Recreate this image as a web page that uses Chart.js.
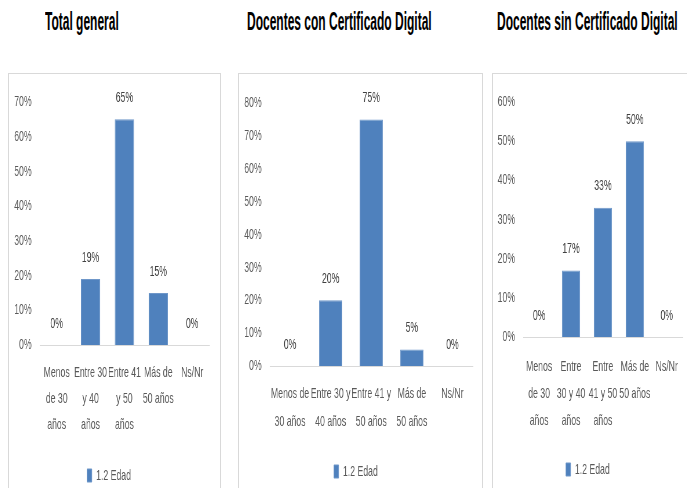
<!DOCTYPE html>
<html>
<head>
<meta charset="utf-8">
<script src="https://cdn.jsdelivr.net/npm/chart.js@4.4.1/dist/chart.umd.min.js"></script>
<style>
  body { margin: 0; width: 687px; height: 488px; overflow: hidden; background: #fff; }
  .title { position: absolute; top: 7px; font-family: 'Liberation Sans', Arial, sans-serif; font-size: 25px; font-weight: bold; color: #000; white-space: nowrap; transform: scaleX(0.48); transform-origin: 0 0; }
  .panel { position: absolute; top: 73px; height: 430px; border: 1px solid #d9d9d9; box-sizing: border-box; overflow: hidden; }
  .panel canvas { position: absolute; left: 0; top: 0; transform: scaleX(0.58); transform-origin: 0 0; }
</style>
</head>
<body>
<div class="title" style="left:45px">Total general</div>
<div class="title" style="left:247px">Docentes con Certificado Digital</div>
<div class="title" style="left:497px">Docentes sin Certificado Digital</div>

<!-- canvases are drawn wide and squeezed horizontally to get the narrow text -->
<div class="panel" style="left:8px;width:213px"><canvas id="c1" width="364" height="424"></canvas></div>
<div class="panel" style="left:238px;width:245px"><canvas id="c2" width="419" height="424"></canvas></div>
<div class="panel" style="left:492px;width:200px"><canvas id="c3" width="341" height="424"></canvas></div>

<script>
const FONT = "'Liberation Sans', Arial, sans-serif"
const seriesName = '1.2 Edad'

const labelsTotal = [['Menos', 'de 30', 'años'], ['Entre 30', 'y 40', 'años'], ['Entre 41', 'y 50', 'años'], ['Más de', '50 años'], 'Ns/Nr']
const labelsCon = [['Menos de', '30 años'], ['Entre 30 y', '40 años'], ['Entre 41 y', '50 años'], ['Más de', '50 años'], 'Ns/Nr']
const labelsSin = [['Menos', 'de 30', 'años'], ['Entre', '30 y 40', 'años'], ['Entre', '41 y 50', 'años'], ['Más de', '50 años'], 'Ns/Nr']

const valuesTotal = [0, 19, 65, 15, 0]
const valuesCon = [0, 20, 75, 5, 0]
const valuesSin = [0, 17, 33, 50, 0]

const maxTotal = 70
const maxCon = 80
const maxSin = 60

// value labels above each bar
const barLabels = {
  id: 'barLabels',
  afterDatasetsDraw(chart) {
    const ctx = chart.ctx
    const meta = chart.getDatasetMeta(0)
    const data = chart.data.datasets[0].data
    ctx.save()
    ctx.font = '15px ' + FONT
    ctx.fillStyle = '#404040'
    ctx.textAlign = 'center'
    ctx.textBaseline = 'bottom'
    meta.data.forEach((bar, i) => {
      ctx.fillText(data[i] + '%', bar.x, bar.y - 14)
    })
    ctx.restore()
  },
}

function createChart(canvas, labels, data, max, opts) {
  return new Chart(canvas, {
    type: 'bar',
    data: {
      labels,
      datasets: [
        {
          label: seriesName,
          data,
          backgroundColor: '#4f81bd',
          borderColor: '#6f97c9',
          borderWidth: 1,
          categoryPercentage: 1,
          barPercentage: 0.57,
        },
      ],
    },
    plugins: [barLabels],
    options: {
      responsive: false,
      animation: false,
      layout: { padding: { top: opts.top, right: opts.right, bottom: opts.bottom, left: 0 } },
      plugins: {
        legend: {
          position: 'bottom',
          labels: {
            boxWidth: 8,
            boxHeight: 13,
            padding: 6,
            color: '#595959',
            font: { family: FONT, size: 15 },
          },
        },
        tooltip: { enabled: false },
      },
      scales: {
        x: {
          grid: { display: true, drawOnChartArea: false, drawTicks: false },
          border: { display: true, color: '#d9d9d9', width: 1 },
          ticks: {
            maxRotation: 0,
            minRotation: 0,
            autoSkip: false,
            padding: opts.tickPad,
            color: '#595959',
            font: { family: FONT, size: 15, lineHeight: opts.lineHeight },
          },
          afterFit: (scale) => { scale.height = opts.xHeight },
        },
        y: {
          min: 0,
          max,
          grid: { display: false, drawTicks: false },
          border: { display: false },
          ticks: {
            stepSize: 10,
            padding: 14,
            color: '#595959',
            font: { family: FONT, size: 15 },
            callback: (v) => v + '%',
          },
          afterFit: (scale) => { scale.width = opts.yWidth },
        },
      },
    },
  })
}

createChart(document.getElementById('c1'), labelsTotal, valuesTotal, maxTotal,
  { top: 28, right: 19, bottom: 5, yWidth: 53, xHeight: 117, tickPad: 15, lineHeight: 1.73 })
createChart(document.getElementById('c2'), labelsCon, valuesCon, maxCon,
  { top: 29, right: 16, bottom: 9, yWidth: 53, xHeight: 92, tickPad: 14, lineHeight: 1.87 })
createChart(document.getElementById('c3'), labelsSin, valuesSin, maxSin,
  { top: 28, right: 14, bottom: 11, yWidth: 52, xHeight: 119, tickPad: 16, lineHeight: 1.8 })
</script>
</body>
</html>
